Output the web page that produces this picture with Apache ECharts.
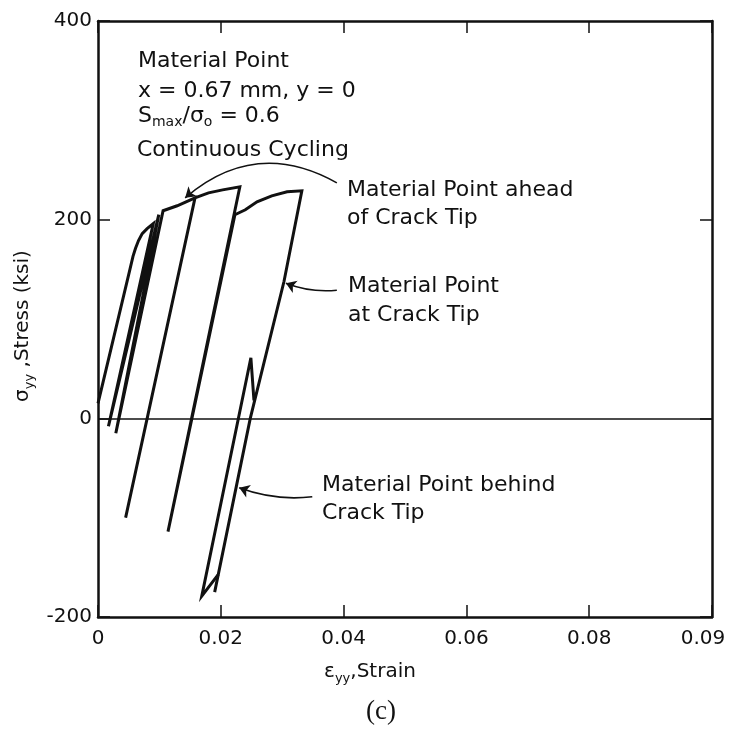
<!DOCTYPE html>
<html>
<head>
<meta charset="utf-8">
<script src="https://cdn.jsdelivr.net/npm/echarts@6/dist/echarts.min.js"></script>
<style>
  html, body { margin: 0; padding: 0; background: #fff; }
  #chart { width: 729px; height: 734px; }
</style>
</head>
<body>
<div id="chart"></div>
<script>
// Stress–strain history of the material point under continuous cycling.
// Strain (mm/mm) and stress (ksi) along the loading path, in order.
const cycleStrain = [0.0000, 0.0052, 0.0057, 0.0061, 0.0066, 0.0072, 0.0080, 0.0090, 0.0017,
                     0.0099, 0.0029, 0.0106, 0.0129, 0.0158, 0.0045, 0.0158, 0.0180, 0.0203,
                     0.0231, 0.0114, 0.0223, 0.0240, 0.0259, 0.0283, 0.0308, 0.0332, 0.0303,
                     0.0248, 0.0190];
const cycleStress = [15, 150, 163, 171, 179, 186, 191, 196, -8,
                     205, -15, 209, 214, 222, -100, 222, 227, 230,
                     233, -114, 205, 210, 218, 224, 228, 229, 138,
                     0, -175];

// Small loop once the point lies behind the advancing crack tip.
const behindStrain = [0.0254, 0.0249, 0.0169, 0.0196];
const behindStress = [18, 61, -179, -157];

// Axis tick labels as printed.
const xTickLabels = ['0', '0.02', '0.04', '0.06', '0.08', '0.09'];
const yTickLabels = ['-200', '0', '200', '400'];

const zip = (xs, ys) => xs.map((x, i) => [x, ys[i]]);
const FONT = '"DejaVu Sans", sans-serif';
const INK = '#111';

const chart = echarts.init(document.getElementById('chart'), null, { renderer: 'canvas' });

const subRich = {
  n: { fontFamily: FONT, fontSize: 20, color: INK, lineHeight: 26 },
  s: { fontFamily: FONT, fontSize: 13, color: INK, verticalAlign: 'bottom' }
};

const xBase = {
  type: 'value', min: 0, max: 0.1, interval: 0.02,
  axisLine: { show: true, onZero: false, lineStyle: { color: INK, width: 2.5 } },
  axisTick: { show: true, inside: true, length: 12, lineStyle: { color: INK, width: 1.5 } },
  splitLine: { show: false }
};
const yBase = {
  type: 'value', min: -200, max: 400, interval: 200,
  axisLine: { show: true, onZero: false, lineStyle: { color: INK, width: 2.5 } },
  axisTick: { show: true, inside: true, length: 12, lineStyle: { color: INK, width: 1.5 } },
  splitLine: { show: false }
};

function note(x, y, text, size) {
  return {
    type: 'text', x: x, y: y, silent: true,
    style: { text: text, fontFamily: FONT, fontSize: size || 22, fill: INK, align: 'left', verticalAlign: 'middle' }
  };
}

const option = {
  animation: false,
  backgroundColor: '#fff',
  grid: { left: 98, right: 17, top: 21, bottom: 117, containLabel: false },
  xAxis: [
    Object.assign({}, xBase, {
      position: 'bottom',
      axisLabel: {
        show: true, margin: 12, fontFamily: FONT, fontSize: 20, color: INK,
        formatter: v => {
          const i = Math.round(v / 0.02);
          const t = xTickLabels[i];
          return i === xTickLabels.length - 1 ? '{last|' + t + '}' : t;
        },
        rich: { last: { fontFamily: FONT, fontSize: 20, color: INK, padding: [0, 18, 0, 0] } }
      },
      name: '{n|ε}{s|yy}{n|,Strain}',
      nameLocation: 'middle', nameGap: 42,
      nameTextStyle: { rich: subRich, padding: [0, 70, 0, 0] }
    }),
    Object.assign({}, xBase, { position: 'top', axisLabel: { show: false } })
  ],
  yAxis: [
    Object.assign({}, yBase, {
      position: 'left',
      axisLabel: {
        show: true, margin: 6, fontFamily: FONT, fontSize: 20, color: INK,
        formatter: v => yTickLabels[Math.round((v + 200) / 200)]
      },
      name: '{n|σ}{s|yy}{n| ,Stress (ksi)}',
      nameLocation: 'middle', nameRotate: 90, nameGap: 53,
      nameTextStyle: { rich: subRich, padding: [0, 14, 0, 0] }
    }),
    Object.assign({}, yBase, { position: 'right', axisLabel: { show: false } })
  ],
  series: [
    {
      name: 'Continuous cycling', type: 'line', xAxisIndex: 0, yAxisIndex: 0,
      data: zip(cycleStrain, cycleStress), symbol: 'none', silent: true,
      lineStyle: { color: INK, width: 3, join: 'miter', miterLimit: 6 },
      markLine: {
        silent: true, symbol: 'none', label: { show: false },
        lineStyle: { color: INK, width: 1.5, type: 'solid' },
        data: [{ yAxis: 0 }]
      },
      z: 3
    },
    {
      name: 'Behind crack tip', type: 'line', xAxisIndex: 0, yAxisIndex: 0,
      data: zip(behindStrain, behindStress), symbol: 'none', silent: true,
      lineStyle: { color: INK, width: 3, join: 'miter', miterLimit: 6 },
      z: 3
    },
    {
      // leader arrows from the notes to the curves
      type: 'lines', coordinateSystem: 'cartesian2d', xAxisIndex: 0, yAxisIndex: 0,
      symbol: ['none', 'arrow'], symbolSize: 10, silent: true,
      lineStyle: { color: INK, width: 1.6, opacity: 1 },
      data: [
        { coords: [[0.0389, 237], [0.0142, 222]], lineStyle: { curveness: -0.35 } },
        { coords: [[0.0389, 129], [0.0306, 136]], lineStyle: { curveness: 0.12 } },
        { coords: [[0.0349, -79], [0.0230, -70]], lineStyle: { curveness: 0.12 } }
      ],
      z: 4
    }
  ],
  graphic: [
    note(138, 61, 'Material Point'),
    note(138, 91, 'x = 0.67 mm, y = 0'),
    {
      type: 'text', x: 138, y: 116, silent: true,
      style: {
        text: '{n|S}{s|max}{n|/σ}{s|o}{n| = 0.6}',
        align: 'left', verticalAlign: 'middle',
        rich: {
          n: { fontFamily: FONT, fontSize: 22, fill: INK, lineHeight: 26 },
          s: { fontFamily: FONT, fontSize: 14, fill: INK, verticalAlign: 'bottom' }
        }
      }
    },
    note(137, 150, 'Continuous Cycling'),
    note(347, 190, 'Material Point ahead'),
    note(347, 218, 'of Crack Tip'),
    note(348, 286, 'Material Point'),
    note(348, 315, 'at Crack Tip'),
    note(322, 485, 'Material Point behind'),
    note(322, 513, 'Crack Tip'),
    {
      type: 'text', x: 381, y: 712, silent: true,
      style: { text: '(c)', fontFamily: '"Liberation Serif", serif', fontSize: 27, fill: INK, align: 'center', verticalAlign: 'middle' }
    }
  ]
};

chart.setOption(option);
</script>
</body>
</html>
